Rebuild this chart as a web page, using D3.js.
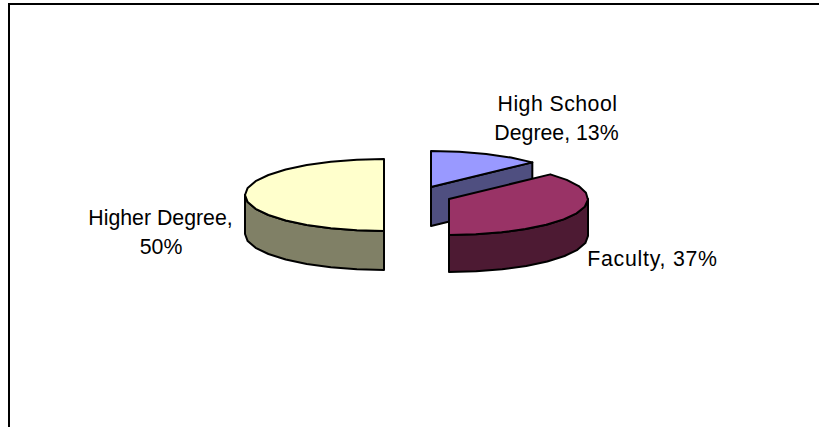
<!DOCTYPE html>
<html><head><meta charset="utf-8">
<script src="https://cdn.jsdelivr.net/npm/d3@7/dist/d3.min.js"></script>
<style>html,body{margin:0;padding:0;background:#fff}svg{display:block}text{font-family:"Liberation Sans",Arial,sans-serif;font-size:21.3px;fill:#000}</style>
</head><body><svg id="c" width="819" height="427"></svg>
<script>
const categories = ["High School Degree", "Faculty", "Higher Degree"];
const values = [13, 37, 50];
const topColors = ["#9999ff", "#993366", "#ffffcc"];
const sideColors = ["#4f4f80", "#4d1a33", "#808066"];
const svg = d3.select("#c");
const rx = 139, ry = 36;
const depths = [39, 37, 39];
const centers = [[431,187],[449,199],[384,195]];
const labels = [
  {lines:["High School"], x:557.5, y:110.5, ls:0.45},
  {lines:["Degree, 13%"], x:556.5, y:139.5, ls:0},
  {lines:["Faculty, 37%"], x:652.5, y:266, ls:0.75},
  {lines:["Higher Degree,"], x:160.5, y:224.5, ls:0},
  {lines:["50%"], x:161, y:254, ls:0}
];
svg.append("path").attr("d","M9,427V4H819").attr("fill","none").attr("stroke","#000").attr("stroke-width",2);
const pie = d3.pie().sort(null).value(d=>d)(values);
const pt = (c,a,dy=0)=>[c[0]+rx*Math.sin(a), c[1]-ry*Math.cos(a)+dy];
function arcTo(p,c,a0,a1,dy=0){
  const n = Math.max(3, Math.round(Math.abs(a1-a0)/(Math.PI/16)));
  d3.range(1,n+1).forEach(i=>{const q=pt(c,a0+(a1-a0)*i/n,dy);p.lineTo(q[0],q[1]);});
}
const order = [2,0,1];
order.forEach(i=>{
  const s = pie[i], c = centers[i], d = depths[i], g = svg.append("g");
  const a0 = s.startAngle, a1 = s.endAngle;
  const side = (draw)=>{const p=d3.path();draw(p);g.append("path").attr("d",p.toString()).attr("fill",sideColors[i]).attr("stroke","#000").attr("stroke-width",2).attr("stroke-linejoin","round");};
  if(i===0){
    side(p=>{const e=pt(c,a1);p.moveTo(c[0],c[1]);p.lineTo(e[0],e[1]);p.lineTo(e[0],e[1]+d);p.lineTo(c[0],c[1]+d);p.closePath();});
  } else {
    const from = Math.max(a0,Math.PI/2), to = Math.min(a1,1.5*Math.PI);
    side(p=>{const q=pt(c,from);p.moveTo(q[0],q[1]);arcTo(p,c,from,to);const r=pt(c,to,d);p.lineTo(r[0],r[1]);arcTo(p,c,to,from,d);p.closePath();});
  }
  const p=d3.path();p.moveTo(c[0],c[1]);const st=pt(c,a0);p.lineTo(st[0],st[1]);arcTo(p,c,a0,a1);p.closePath();
  g.append("path").attr("d",p.toString()).attr("fill",topColors[i]).attr("stroke","#000").attr("stroke-width",2).attr("stroke-linejoin","round");
});
labels.forEach(l=>{
  const t=svg.append("text").attr("text-anchor","middle").style("letter-spacing",l.ls+"px");
  l.lines.forEach((s,j)=>t.append("tspan").attr("x",l.x).attr("y",l.y+j*29).text(s));
});
</script></body></html>
